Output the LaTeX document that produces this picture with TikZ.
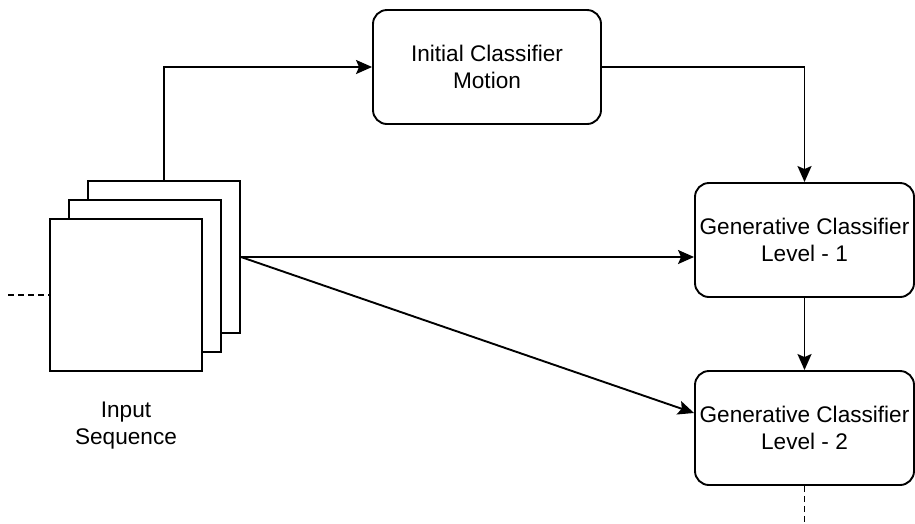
\documentclass[tikz,border=0pt]{standalone}
\usepackage{fontspec}
\setmainfont{Liberation Sans}
\usetikzlibrary{arrows.meta}
\begin{document}
\begin{tikzpicture}[x=1pt,y=-1pt,line width=1.9pt,every node/.style={font=\fontsize{22.6}{27}\selectfont,align=center},
  clsbox/.style={draw,rounded corners=14pt,inner sep=0pt,minimum height=114pt},
  seqframe/.style={draw,fill=white,minimum size=152pt,inner sep=0pt},
  flow/.style={-{Stealth[length=16pt,width=14pt,inset=3pt]}}]
\useasboundingbox (0,0) rectangle (915,523);
% stacked input frames, back to front
\node[seqframe] (sq3) at (164,257) {}; \node[seqframe] (sq2) at (145,276) {}; \node[seqframe] (sq1) at (126,295) {};
\node (lbl) at (126,426) {Input\\Sequence};
\node[clsbox,minimum width=228pt] (init) at (487,67) {Initial Classifier\\Motion};
\node[clsbox,minimum width=219pt] (gen1) at (804.5,240) {Generative Classifier\\Level - 1}; \node[clsbox,minimum width=219pt] (gen2) at (804.5,428) {Generative Classifier\\Level - 2};
\coordinate (inL) at (8,295); \coordinate (outB) at (804.5,523);
\draw[flow] (sq3.north) |- (init.west); \draw[flow] (init.east) -| (gen1.north);
\draw[flow] (sq3.east) -- (sq3.east -| gen1.west); \draw[flow] (sq3.east) -- ([yshift=15pt]gen2.west);
\draw[flow] (gen1) -- (gen2);
\draw[dashed,dash pattern=on 6pt off 4pt] (inL) -- (sq1.west); \draw[dashed,dash pattern=on 6pt off 4pt] (gen2.south) -- (outB);
\end{tikzpicture}
\end{document}
